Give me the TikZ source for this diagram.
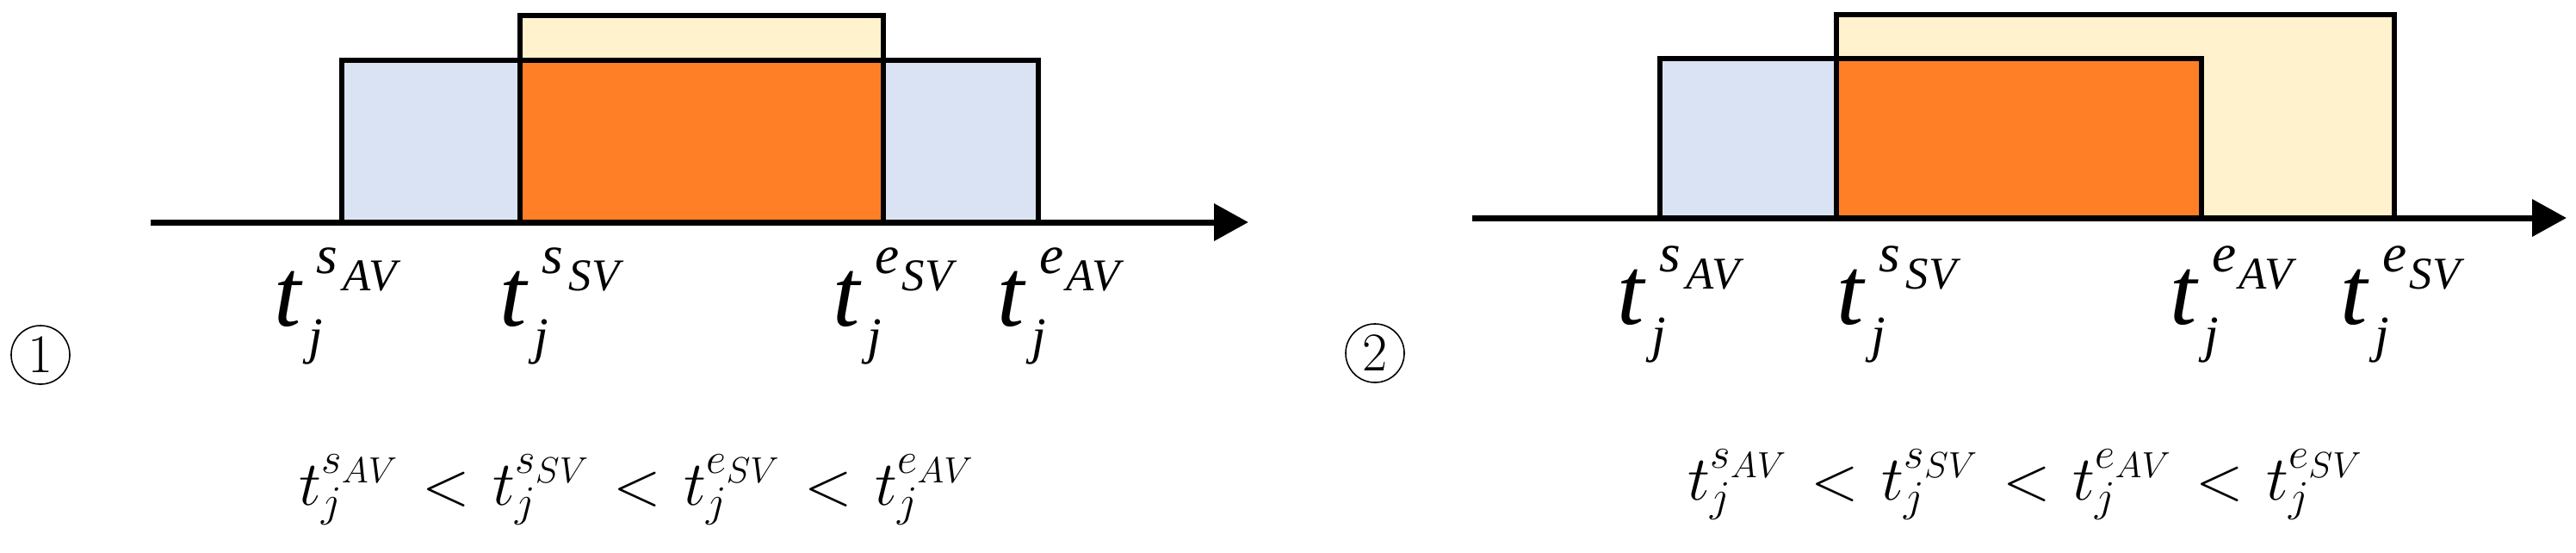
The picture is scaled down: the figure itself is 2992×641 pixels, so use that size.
\documentclass[tikz,border=0pt]{standalone}
\usepackage{fontspec}
\usetikzlibrary{arrows.meta}
\newfontfamily\tnr{Liberation Serif}
\newlength\pxu
\setlength\pxu{0.01cm}
\DeclareMathSizes{21}{21}{15.5}{12}
\definecolor{avblue}{HTML}{DAE3F3}
\definecolor{svyellow}{HTML}{FFF2CC}
\definecolor{overlap}{HTML}{FF7F27}
% t_j^{#1_{#2}} label built from text glyphs
\newcommand{\tlab}[2]{%
  \makebox[0pt][l]{\fontsize{32}{32}\selectfont\tnr\itshape t}%
  \makebox[0pt][l]{\hspace{40\pxu}\raisebox{-32\pxu}{\fontsize{17}{17}\selectfont\tnr\itshape j}}%
  \makebox[0pt][l]{\hspace{49\pxu}\raisebox{61\pxu}{\fontsize{18}{18}\selectfont\tnr\itshape #1}}%
  \hspace{80\pxu}\raisebox{41\pxu}{\fontsize{15}{15}\selectfont\tnr\itshape #2}%
}
\newcommand{\wideineq}[1]{$\thickmuskip=6.5mu\relax #1$}
\tikzset{
  interval/.style={draw=black, line width=1.7pt},
  axisline/.style={line width=2pt, -{Triangle[length=0.4cm,width=0.42cm]}},
  circnum/.style={circle, draw, line width=0.45pt, minimum size=0.68cm, inner sep=0pt, font=\fontsize{18}{18}\selectfont},
  tlabel/.style={anchor=base west, inner sep=0pt},
  ineq/.style={anchor=base west, inner sep=0pt, font=\fontsize{21}{25}\selectfont},
}
\begin{document}
\begin{tikzpicture}[x=0.01cm, y=-0.01cm]
\useasboundingbox (0,0) rectangle (2992,641);
% ---------- panel 1 ----------
\draw[interval, fill=avblue] (397,70) rectangle (1206,258);
\draw[interval, fill=svyellow] (604,18) rectangle (1026,258);
\draw[interval, fill=overlap] (604,70) rectangle (1026,258);
\coordinate (a1s) at (175,258);
\coordinate (a1e) at (1450,258);
\draw[axisline] (a1s) -- (a1e);
\node[circnum] (c1) at (47,412) {1};
\node[tlabel] (l1a) at (318,378) {\tlab{s}{AV}};
\node[tlabel] (l1b) at (580,378) {\tlab{s}{SV}};
\node[tlabel] (l1c) at (967,378) {\tlab{e}{SV}};
\node[tlabel] (l1d) at (1158,378) {\tlab{e}{AV}};
\node[ineq] (q1) at (347,586) {\wideineq{t_j^{s_{AV}} < t_j^{s_{SV}} < t_j^{e_{SV}} < t_j^{e_{AV}}}};
% ---------- panel 2 ----------
\draw[interval, fill=avblue] (1928,68) rectangle (2557,253);
\draw[interval, fill=svyellow] (2133,17) rectangle (2781,253);
\draw[interval, fill=overlap] (2133,68) rectangle (2557,253);
\coordinate (a2s) at (1710,253);
\coordinate (a2e) at (2981,253);
\draw[axisline] (a2s) -- (a2e);
\node[circnum] (c2) at (1597,410) {2};
\node[tlabel] (l2a) at (1878,376) {\tlab{s}{AV}};
\node[tlabel] (l2b) at (2133,376) {\tlab{s}{SV}};
\node[tlabel] (l2c) at (2520,376) {\tlab{e}{AV}};
\node[tlabel] (l2d) at (2718,376) {\tlab{e}{SV}};
\node[ineq] (q2) at (1960,580) {\wideineq{t_j^{s_{AV}} < t_j^{s_{SV}} < t_j^{e_{AV}} < t_j^{e_{SV}}}};
\end{tikzpicture}
\end{document}
